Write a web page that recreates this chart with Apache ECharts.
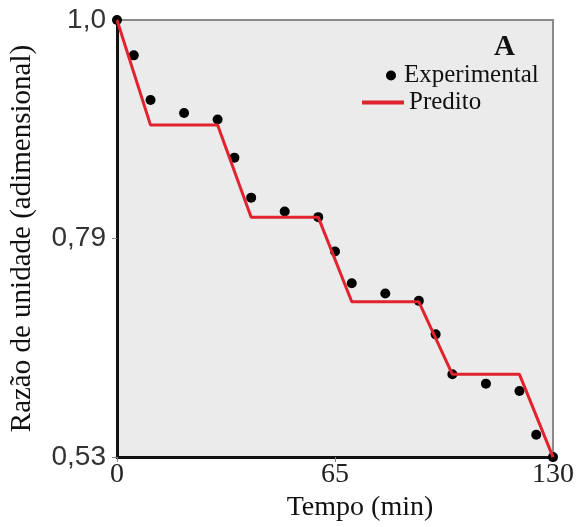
<!DOCTYPE html>
<html>
<head>
<meta charset="utf-8">
<script src="https://cdn.jsdelivr.net/npm/echarts@6/dist/echarts.min.js"></script>
<style>html,body{margin:0;padding:0;background:#fff;}#c{width:577px;height:527px;}</style>
</head>
<body>
<div id="c"></div>
<script>
// Experimental points: [time (min), moisture ratio]
const expTime = [0, 5, 10, 20, 30, 35, 40, 50, 60, 65, 70, 80, 90, 95, 100, 110, 120, 125, 130];
const expRatio = [1.0, 0.962, 0.914, 0.900, 0.893, 0.852, 0.809, 0.794, 0.788, 0.751, 0.717, 0.706, 0.698, 0.662, 0.619, 0.609, 0.601, 0.554, 0.53];
// Predicted curve
const predTime = [0, 10, 30, 40, 60, 70, 90, 100, 120, 130];
const predRatio = [1.0, 0.887, 0.887, 0.788, 0.788, 0.697, 0.697, 0.619, 0.619, 0.53];
// Axis ticks
const xTicks = [0, 65, 130];
const yTickValues = [0.53, 0.765, 1.0];
const yTickLabels = ['0,53', '0,79', '1,0'];

const serif = '"Liberation Serif", "Times New Roman", serif';
const sans = '"Liberation Sans", Arial, sans-serif';

const chart = echarts.init(document.getElementById('c'), null, {renderer: 'canvas'});
chart.setOption({
  animation: false,
  backgroundColor: '#ffffff',
  title: {
    text: 'A', left: 489, top: 28,
    textStyle: {fontFamily: serif, fontSize: 29, fontWeight: 'bold', color: '#111'}
  },
  legend: [
    {
      data: [{name: 'Experimental', icon: 'circle'}],
      left: 381, top: 58, itemWidth: 12, itemHeight: 10,
      textStyle: {fontFamily: serif, fontSize: 25, color: '#111', padding: [0, 0, 0, 2]}
    },
    {
      data: [{name: 'Predito', icon: 'rect'}],
      left: 357, top: 85, itemWidth: 42, itemHeight: 4,
      textStyle: {fontFamily: serif, fontSize: 25, color: '#111'}
    }
  ],
  grid: {
    left: 115, right: 24, top: 20, bottom: 69,
    show: true, backgroundColor: '#ebebeb', borderColor: '#8a8a8a', borderWidth: 2
  },
  xAxis: {
    type: 'value', min: 0, max: 130, interval: 65,
    name: 'Tempo (min)', nameLocation: 'middle', nameGap: 27,
    nameTextStyle: {fontFamily: serif, fontSize: 28, color: '#111', padding: [0, 0, 0, 50]},
    axisLine: {show: true, onZero: false, lineStyle: {color: '#111', width: 3}},
    axisTick: {show: true, length: 5, lineStyle: {color: '#888', width: 1}},
    axisLabel: {fontFamily: serif, fontSize: 28, color: '#222', margin: 4,
      customValues: xTicks},
    splitLine: {show: false}
  },
  yAxis: {
    type: 'value', min: 0.53, max: 1.0,
    name: 'Razão de unidade (adimensional)', nameLocation: 'middle', nameGap: 80,
    nameTextStyle: {fontFamily: serif, fontSize: 29, color: '#111'},
    axisLine: {show: true, onZero: false, lineStyle: {color: '#111', width: 3}},
    axisTick: {show: true, length: 5, lineStyle: {color: '#888', width: 1},
      customValues: yTickValues},
    axisLabel: {fontFamily: sans, fontSize: 28, color: '#333', margin: 11,
      customValues: yTickValues,
      formatter: function (v) {
        for (let i = 0; i < yTickValues.length; i++) {
          if (Math.abs(v - yTickValues[i]) < 1e-6) return yTickLabels[i];
        }
        return '';
      }},
    splitLine: {show: false}
  },
  series: [
    {
      name: 'Experimental', type: 'scatter', clip: false, z: 3,
      symbol: 'circle', symbolSize: 10,
      itemStyle: {color: '#000000', opacity: 1},
      data: expTime.map((t, i) => [t, expRatio[i]])
    },
    {
      name: 'Predito', type: 'line', clip: false, z: 4,
      showSymbol: false, symbol: 'none',
      lineStyle: {color: '#e0232e', width: 3},
      itemStyle: {color: '#e0232e'},
      data: predTime.map((t, i) => [t, predRatio[i]])
    }
  ]
});
</script>
</body>
</html>
